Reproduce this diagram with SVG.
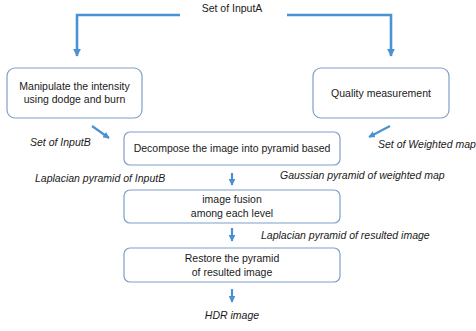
<svg xmlns="http://www.w3.org/2000/svg" width="476" height="331" viewBox="0 0 476 331">
  <defs>
    <marker id="ah" viewBox="0 0 10 10" refX="9" refY="5" markerWidth="3" markerHeight="3" orient="auto" markerUnits="strokeWidth">
      <path d="M0,0 L10,5 L0,10 z" fill="#4a92d4"/>
    </marker>
  </defs>
  <style>
    .box { fill: #ffffff; stroke: #7f9fc8; stroke-width: 1.2; }
    .t { font-family: "Liberation Sans", Arial, sans-serif; font-size: 10.5px; fill: #1a1a1a; text-anchor: middle; }
    .lbl { font-family: "Liberation Sans", Arial, sans-serif; font-size: 10.5px; font-style: italic; fill: #1a1a1a; }
    .c { fill: none; stroke: #4a92d4; stroke-width: 2.6; marker-end: url(#ah); }
    .cs { fill: none; stroke: #4a92d4; stroke-width: 2.2; marker-end: url(#ah); }
  </style>
  <rect width="476" height="331" fill="#ffffff"/>

  <g id="connectors">
    <path class="c" d="M180,15 H77 V56"/>
    <path class="c" d="M287,15 H391 V56"/>
    <path class="cs" d="M92,126 L109,138"/>
    <path class="cs" d="M390,126 L369,137"/>
    <path class="cs" d="M232,173 V185"/>
    <path class="cs" d="M232,228 V241"/>
    <path class="cs" d="M232,289 V302"/>
  </g>

  <g id="inputA">
    <text class="t" x="232" y="12">Set of InputA</text>
  </g>

  <g id="manipulate">
    <rect class="box" x="7" y="68" width="135" height="50" rx="8"/>
    <text class="t" x="74.5" y="90">Manipulate the intensity</text>
    <text class="t" x="74.5" y="103">using dodge and burn</text>
  </g>

  <g id="quality">
    <rect class="box" x="313" y="68" width="136" height="50" rx="8"/>
    <text class="t" x="381" y="97">Quality measurement</text>
  </g>

  <g id="decompose">
    <rect class="box" x="124" y="132" width="216" height="33" rx="6"/>
    <text class="t" x="232" y="152">Decompose the image into pyramid based</text>
  </g>

  <g id="fusion">
    <rect class="box" x="124" y="190" width="216" height="33" rx="6"/>
    <text class="t" x="232" y="203">image fusion</text>
    <text class="t" x="232" y="217">among each level</text>
  </g>

  <g id="restore">
    <rect class="box" x="124" y="248" width="216" height="34" rx="6"/>
    <text class="t" x="232" y="262">Restore the pyramid</text>
    <text class="t" x="232" y="276">of resulted image</text>
  </g>

  <g id="labels">
    <text class="lbl" x="30" y="146">Set of InputB</text>
    <text class="lbl" x="378" y="148">Set of Weighted map</text>
    <text class="lbl" x="35" y="182">Laplacian pyramid of InputB</text>
    <text class="lbl" x="280" y="179">Gaussian pyramid of weighted map</text>
    <text class="lbl" x="261" y="239">Laplacian pyramid of resulted image</text>
    <text class="lbl" x="232" y="319" text-anchor="middle">HDR image</text>
  </g>
</svg>
